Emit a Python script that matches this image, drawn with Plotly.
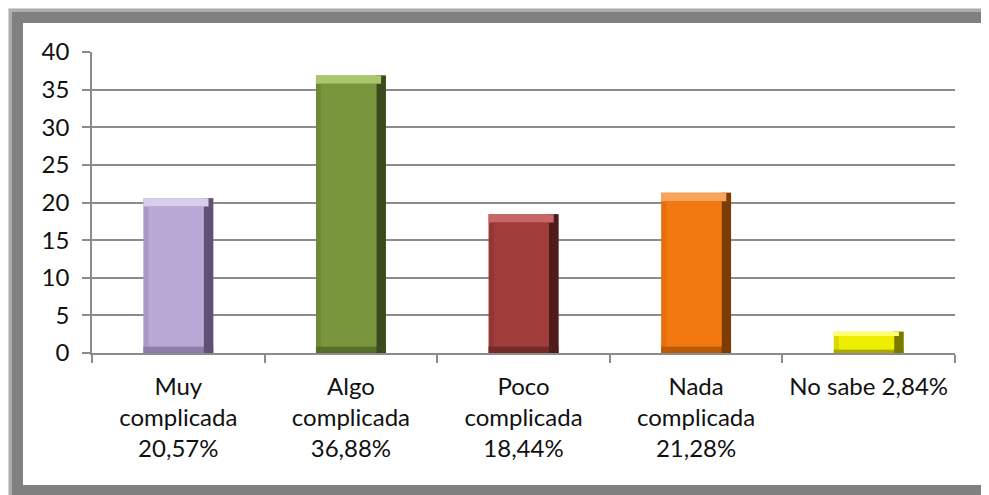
import plotly.graph_objects as go

# ---- data ----
categories = ["Muy<br>complicada<br>20,57%", "Algo<br>complicada<br>36,88%",
              "Poco<br>complicada<br>18,44%", "Nada<br>complicada<br>21,28%",
              "No sabe 2,84%"]
values = [20.57, 36.88, 18.44, 21.28, 2.84]
y_ticks = [0, 5, 10, 15, 20, 25, 30, 35, 40]

# ---- styles ----
face = ["#B8A8D5", "#7A963D", "#A03D3B", "#F27812", "#EEEE00"]
light = ["#D8CDEA", "#A9C76B", "#C86866", "#F9A45C", "#FFFF70"]
side = ["#A998C8", "#6F8A37", "#933634", "#E56F0E", "#DADA00"]
bottom = ["#8E7DA8", "#566E2A", "#742A28", "#B85A08", "#A8A800"]
dark = ["#5F5075", "#3C4B1E", "#4E1C1B", "#7C3C06", "#7A7A00"]

OFF = 8  # page body margin
W, H = 989 - OFF, 495 - OFF
L, R, T, B = 92 - OFF, 34, 52 - OFF, 142
PW, PH = W - L - R, H - T - B

bw_frac = 0.405      # bar width in category units
bev_w = 0.055        # bevel width in category units
side_w = 0.03

fig = go.Figure()
bev_v = [min(1.1, 0.2 * v) for v in values]
bev_b = [0.8 * b for b in bev_v]

common = dict(hoverinfo="skip")
fig.add_trace(go.Bar(x=categories, y=values, width=bw_frac, offset=-bw_frac / 2,
                     marker=dict(color=side, line=dict(width=0)), **common))
fig.add_trace(go.Bar(x=categories, y=bev_b, width=bw_frac, offset=-bw_frac / 2,
                     marker=dict(color=bottom, line=dict(width=0)), **common))
fig.add_trace(go.Bar(x=categories, y=values, width=bev_w, offset=bw_frac / 2 - bev_w,
                     marker=dict(color=dark, line=dict(width=0)), **common))
fig.add_trace(go.Bar(x=categories, y=bev_v, base=[v - b for v, b in zip(values, bev_v)],
                     width=bw_frac - bev_w * 0.5, offset=-bw_frac / 2,
                     marker=dict(color=light, line=dict(width=0)), **common))
fig.add_trace(go.Bar(x=categories, y=[v - b - bb for v, b, bb in zip(values, bev_v, bev_b)],
                     base=bev_b,
                     width=bw_frac - bev_w - side_w, offset=-bw_frac / 2 + side_w,
                     marker=dict(color=face, line=dict(width=0)), **common))


def px_x(px):
    return (px - OFF - L) / PW


def px_y(py):
    return (H - B - (py - OFF)) / PH


shapes = []
# soft shadow + gray frame
for o, op in [(3, 0.12), (6, 0.25), (9, 0.45), (12, 1.0)]:
    shapes.append(dict(type="rect", xref="paper", yref="paper", layer="below",
                       x0=px_x(max(o, OFF)), x1=px_x(1000), y0=px_y(max(o, OFF)), y1=px_y(510),
                       fillcolor="#808080", opacity=op, line=dict(width=0)))
shapes.append(dict(type="rect", xref="paper", yref="paper", layer="below",
                   x0=px_x(23), x1=px_x(983), y0=px_y(23), y1=px_y(485),
                   fillcolor="white", line=dict(width=0)))

font_family = "Lato, 'Open Sans', sans-serif"
fig.update_layout(
    width=W, height=H,
    margin=dict(l=L, r=R, t=T, b=B, autoexpand=False),
    barmode="overlay",
    showlegend=False,
    paper_bgcolor="white",
    plot_bgcolor="rgba(0,0,0,0)",
    shapes=shapes,
    font=dict(family=font_family, size=24, color="#111111"),
)
fig.update_xaxes(
    type="category", range=[-0.5, 4.5],
    showline=True, linecolor="#8C8C8C", linewidth=1.5,
    ticks="outside", tickson="boundaries", ticklen=8, tickcolor="#8C8C8C", tickwidth=1.5,
    showgrid=False, tickfont=dict(size=24), ticklabelstandoff=11,
)
fig.update_yaxes(
    range=[0, 40], tickvals=y_ticks, ticktext=[str(t) for t in y_ticks],
    showline=True, linecolor="#8C8C8C", linewidth=1.5,
    ticks="outside", ticklen=8, tickcolor="#8C8C8C", tickwidth=1.5,
    showgrid=True, gridcolor="#8C8C8C", gridwidth=1.5, zeroline=False,
    ticklabelstandoff=8, tickfont=dict(size=24),
)

fig.write_html("out.html")
